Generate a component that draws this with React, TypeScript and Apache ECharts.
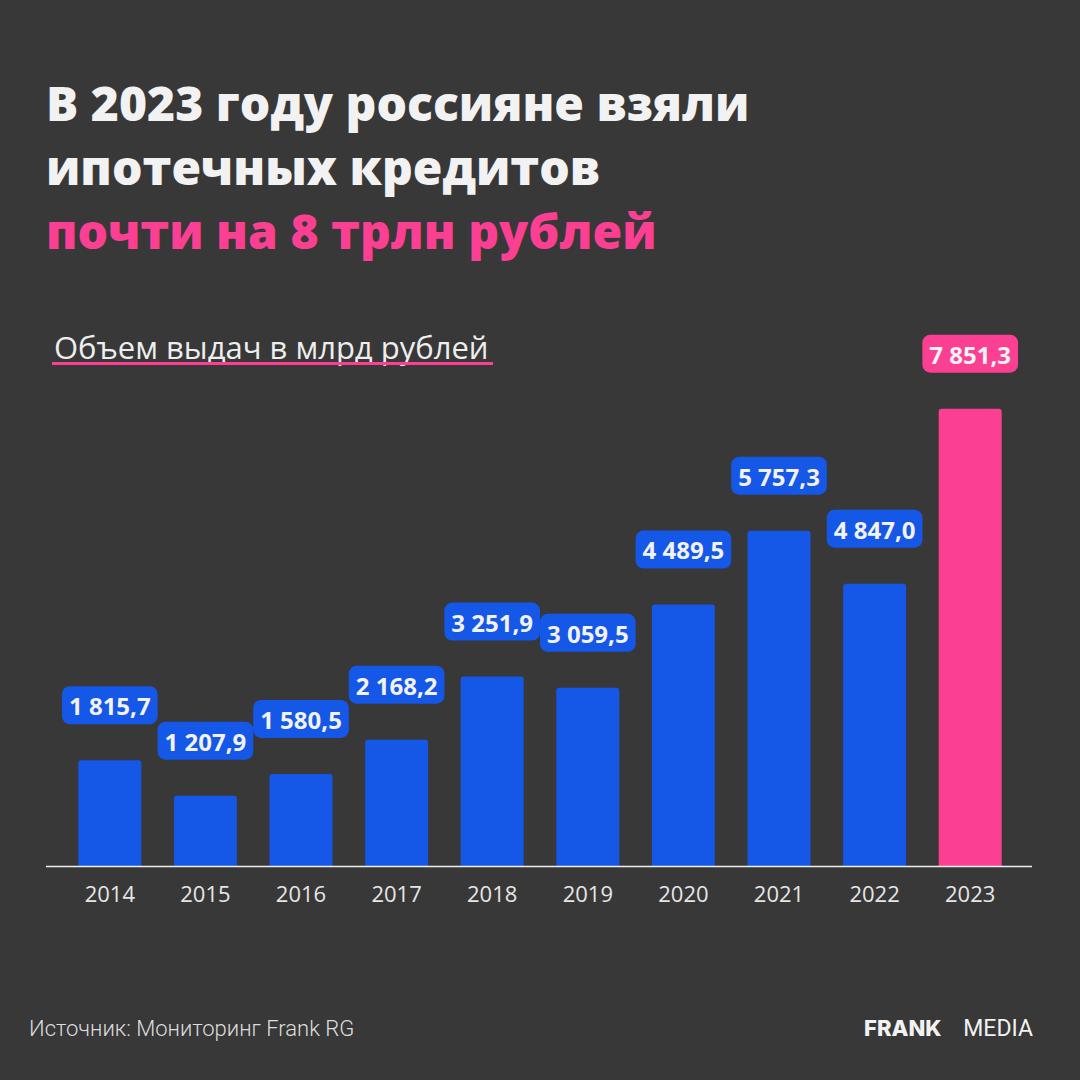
import React, { useEffect, useRef } from "react";
import * as echarts from "echarts";

const years = ["2014", "2015", "2016", "2017", "2018", "2019", "2020", "2021", "2022", "2023"];
const values = [1815.7, 1207.9, 1580.5, 2168.2, 3251.9, 3059.5, 4489.5, 5757.3, 4847.0, 7851.3];
const highlightYear = "2023";

const titleLines = ["В 2023 году россияне взяли", "ипотечных кредитов"];
const titleAccent = "почти на 8 трлн рублей";
const subtitle = "Объем выдач в млрд рублей";
const source = "Источник: Мониторинг Frank RG";

const BG = "#383838";
const BLUE = "#1557E6";
const PINK = "#FB3F93";
const WHITE = "#F2F2F2";

function fmt(v: number): string {
  const [i, d] = v.toFixed(1).split(".");
  return i.replace(/\B(?=(\d{3})+(?!\d))/g, " ") + "," + d;
}

export default function App() {
  const ref = useRef<HTMLDivElement>(null);
  useEffect(() => {
    document.body.style.margin = "0";
    const chart = echarts.init(ref.current!, null, { renderer: "svg" });
    const data = values.map((v, i) => {
      const hl = years[i] === highlightYear;
      const c = hl ? PINK : BLUE;
      return {
        value: v,
        itemStyle: { color: c, borderRadius: [3, 3, 0, 0] },
        label: { backgroundColor: c },
      };
    });
    chart.setOption({
      animation: false,
      backgroundColor: BG,
      grid: { left: 62, right: 62, top: 400, bottom: 214, containLabel: false },
      xAxis: {
        type: "category",
        data: years,
        axisLine: { show: false },
        axisTick: { show: false },
        axisLabel: {
          color: "#E6E6E6",
          fontSize: 22,
          fontFamily: "Open Sans",
          margin: 16,
        },
      },
      yAxis: {
        type: "value",
        min: 0,
        max: 8000,
        show: false,
        splitLine: { show: false },
      },
      series: [
        {
          type: "bar",
          data,
          barWidth: 63,
          label: {
            show: true,
            position: "top",
            distance: 36,
            formatter: (p: any) => fmt(p.value),
            color: WHITE,
            fontSize: 24,
            fontWeight: "bold",
            fontFamily: "Open Sans",
            padding: [5, 7, 4, 7],
            borderRadius: 8,
            lineHeight: 29,
            height: 29,
          },
        },
      ],
      graphic: [
        {
          type: "line",
          shape: { x1: 46, y1: 866.5, x2: 1032, y2: 866.5 },
          style: { stroke: "#F0F0F0", lineWidth: 1.5 },
          z: 10,
        },
        ...titleLines.map((t, i) => ({
          type: "text",
          x: 46,
          y: 102 + i * 64,
          style: {
            text: t,
            fill: WHITE,
            fontSize: 48,
            fontWeight: 800,
            fontFamily: "Open Sans",
            verticalAlign: "middle",
          },
        })),
        {
          type: "text",
          x: 46,
          y: 230,
          style: {
            text: titleAccent,
            fill: PINK,
            fontSize: 48,
            fontWeight: 800,
            fontFamily: "Open Sans",
            verticalAlign: "middle",
          },
        },
        {
          type: "text",
          x: 54,
          y: 347,
          style: {
            text: subtitle,
            fill: "#EEEEEE",
            fontSize: 31,
            fontFamily: "Open Sans",
            verticalAlign: "middle",
          },
        },
        {
          type: "rect",
          shape: { x: 52, y: 362, width: 441, height: 3 },
          style: { fill: PINK },
        },
        {
          type: "text",
          x: 29,
          y: 1028,
          style: {
            text: source,
            fill: "#DDDDDD",
            fontSize: 22,
            fontFamily: "Roboto",
            fontWeight: 300,
            verticalAlign: "middle",
          },
        },
        {
          type: "text",
          x: 864,
          y: 1028,
          style: {
            text: "FRANK",
            fill: WHITE,
            fontSize: 22,
            fontWeight: 800,
            fontFamily: "Inter",
            verticalAlign: "middle",
          },
        },
        {
          type: "text",
          x: 1033,
          y: 1028,
          style: {
            text: "MEDIA",
            align: "right",
            fill: WHITE,
            fontSize: 23,
            fontWeight: 400,
            fontFamily: "Roboto",
            verticalAlign: "middle",
          },
        },
      ],
    });
    return () => chart.dispose();
  }, []);
  return (
    <div
      ref={ref}
      style={{ position: "absolute", left: 0, top: 0, width: 1080, height: 1080 }}
    />
  );
}
